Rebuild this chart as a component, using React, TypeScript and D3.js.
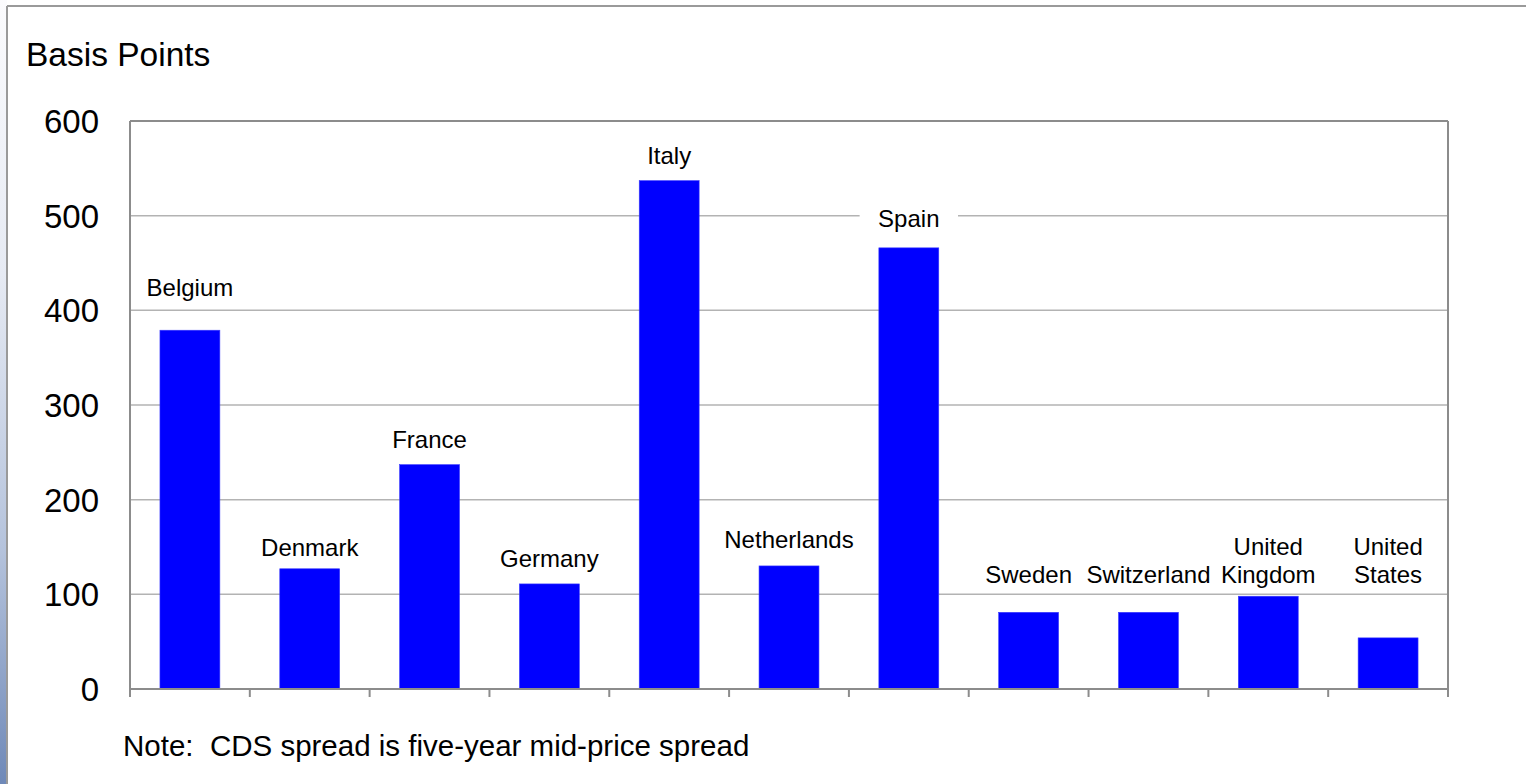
import React from "react";
import * as d3 from "d3";

const countries: string[][] = [
  ["Belgium"],
  ["Denmark"],
  ["France"],
  ["Germany"],
  ["Italy"],
  ["Netherlands"],
  ["Spain"],
  ["Sweden"],
  ["Switzerland"],
  ["United", "Kingdom"],
  ["United", "States"],
];
const spreads: number[] = [379, 127, 237, 111, 537, 130, 466, 81, 81, 98, 54];
// baseline of the (last line of the) label, in basis points
const labelAt: number[] = [415, 140, 255, 129, 555, 149, 488, 112, 112, 112, 112];
const yTicks: number[] = [0, 100, 200, 300, 400, 500, 600];
const yTitle = "Basis Points";
const note = "Note:  CDS spread is five-year mid-price spread";

const W = 1526;
const H = 784;
const plot = { left: 130, right: 1448, top: 121, bottom: 689 };
const FONT = "'Liberation Sans', Arial, Helvetica, sans-serif";

export default function App() {
  const idx = countries.map((_, i) => String(i));
  const x = d3
    .scaleBand<string>()
    .domain(idx)
    .range([plot.left, plot.right])
    .paddingInner(0.5)
    .paddingOuter(0.25);
  const xb = d3.scaleBand<string>().domain(idx).range([plot.left, plot.right]);
  const y = d3.scaleLinear().domain([0, 600]).range([plot.bottom, plot.top]);

  const bounds = [...idx.map((k) => xb(k) as number), plot.right];

  const fs = 24;
  const lh = 28;
  const labels = countries.map((lines, i) => {
    const cx = (x(String(i)) as number) + x.bandwidth() / 2;
    const base = y(labelAt[i]);
    const longest = d3.max(lines, (l) => l.length * fs * 0.52) as number;
    const top = base - (lines.length - 1) * lh - fs * 0.75 - 4;
    const bottom = base + 6;
    return { lines, cx, base, longest, top, bottom };
  });

  return (
    <svg
      width={W}
      height={H}
      style={{ position: "fixed", left: 0, top: 0, background: "#fff" }}
      fontFamily={FONT}
    >
      <defs>
        <linearGradient id="strip" x1="0" y1="0" x2="0" y2="1">
          <stop offset="0" stopColor="#fbfbfd" />
          <stop offset="0.35" stopColor="#e6eaf3" />
          <stop offset="0.7" stopColor="#b5c3dc" />
          <stop offset="1" stopColor="#6f89b8" />
        </linearGradient>
      </defs>
      <rect x={0} y={0} width={W} height={H} fill="#fff" />
      <rect x={0} y={0} width={7} height={H} fill="url(#strip)" />
      {/* outer frame */}
      <line x1={7} y1={6} x2={W} y2={6} stroke="#9a9a9a" strokeWidth={2} />
      <line x1={7} y1={6} x2={7} y2={H} stroke="#9a9a9a" strokeWidth={2} />

      <text x={26} y={66} fontSize={33.5} fill="#000">
        {yTitle}
      </text>

      {/* gridlines */}
      {yTicks
        .filter((t) => t > 0 && t < 600)
        .map((t) => (
          <line
            key={t}
            x1={plot.left}
            x2={plot.right}
            y1={y(t)}
            y2={y(t)}
            stroke="#b3b3b3"
            strokeWidth={1.5}
          />
        ))}

      {/* label backgrounds */}
      {labels.map((lb, i) => (
        <rect
          key={i}
          x={lb.cx - lb.longest / 2 - 18}
          y={lb.top}
          width={lb.longest + 36}
          height={lb.bottom - lb.top}
          fill="#fff"
        />
      ))}

      {/* plot frame */}
      <line x1={plot.left} x2={plot.right} y1={plot.top} y2={plot.top} stroke="#8c8c8c" strokeWidth={2} />
      <line x1={plot.left} x2={plot.left} y1={plot.top} y2={plot.bottom + 8} stroke="#8c8c8c" strokeWidth={2} />
      <line x1={plot.right} x2={plot.right} y1={plot.top} y2={plot.bottom + 8} stroke="#8c8c8c" strokeWidth={2} />

      {/* bars */}
      {spreads.map((v, i) => (
        <rect
          key={i}
          x={x(String(i))}
          y={y(v)}
          width={x.bandwidth()}
          height={y(0) - y(v)}
          fill="#0000ff"
          stroke="#3a3aff"
          strokeWidth={0.6}
        />
      ))}

      {/* x axis */}
      <line x1={plot.left} x2={plot.right} y1={plot.bottom} y2={plot.bottom} stroke="#8c8c8c" strokeWidth={2} />
      {bounds.map((b, i) => (
        <line key={i} x1={b} x2={b} y1={plot.bottom} y2={plot.bottom + 8} stroke="#8c8c8c" strokeWidth={2} />
      ))}

      {/* y tick labels */}
      {yTicks.map((t) => (
        <text key={t} x={99} y={y(t) + 12} fontSize={33} textAnchor="end" fill="#000">
          {t}
        </text>
      ))}

      {/* category labels */}
      {labels.map((lb, i) => (
        <g key={i}>
          {lb.lines.map((l, j) => (
            <text
              key={j}
              x={lb.cx}
              y={lb.base - (lb.lines.length - 1 - j) * lh}
              fontSize={fs}
              textAnchor="middle"
              fill="#000"
            >
              {l}
            </text>
          ))}
        </g>
      ))}

      <text x={123} y={756} fontSize={29.5} fill="#000" style={{ whiteSpace: "pre" }} xmlSpace="preserve">
        {note}
      </text>
    </svg>
  );
}
